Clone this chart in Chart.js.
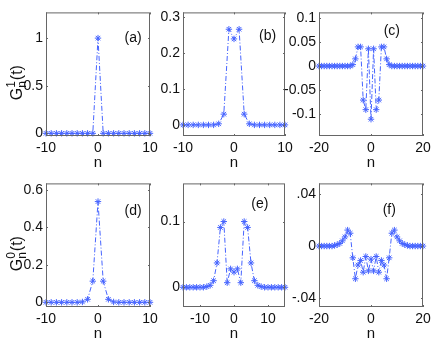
<!DOCTYPE html>
<html>
<head>
<meta charset="utf-8">
<script src="https://cdn.jsdelivr.net/npm/chart.js@4/dist/chart.umd.min.js"></script>
<style>
  html, body { margin: 0; padding: 0; background: #fff; }
  body { width: 436px; height: 343px; position: relative; overflow: hidden; }
  canvas { position: absolute; }
</style>
</head>
<body>
<script>
// site index n for each panel
const n10 = [-10,-9,-8,-7,-6,-5,-4,-3,-2,-1,0,1,2,3,4,5,6,7,8,9,10];
const n15 = [-15,-14,-13,-12,-11,-10,-9,-8,-7,-6,-5,-4,-3,-2,-1,0,1,2,3,4,5,6,7,8,9,10,11,12,13,14,15];
const n20 = [-20,-19,-18,-17,-16,-15,-14,-13,-12,-11,-10,-9,-8,-7,-6,-5,-4,-3,-2,-1,0,
             1,2,3,4,5,6,7,8,9,10,11,12,13,14,15,16,17,18,19,20];

// G_n^1(t)
const gA = [0,0,0,0,0,0,0,0,0,0,1,0,0,0,0,0,0,0,0,0,0];
const gB = [0,0,0,0,0,0,0,0.003,0.03,0.267,0.24,0.267,0.03,0.003,0,0,0,0,0,0,0];
const gC = [0,0,0,0,0,0,0,0,0,0,0,0,0,0.003,0.015,0.04,0.04,-0.071,-0.091,0.036,-0.111,
            0.036,-0.091,-0.071,0.04,0.04,0.015,0.003,0,0,0,0,0,0,0,0,0,0,0,0,0];
// G_n^0(t)
const gD = [0,0,0,0,0,0,0,0.002,0.016,0.113,0.538,0.113,0.016,0.002,0,0,0,0,0,0,0];
const gE = [0,0,0,0,0,0,0,0.001,0.003,0.01,0.037,0.091,0.1,0.007,0.028,0.023,
            0.028,0.007,0.1,0.091,0.037,0.01,0.003,0.001,0,0,0,0,0,0,0];
const gF = [0,0,0,0,0,0,0.0005,0.001,0.002,0.004,0.007,0.0122,0.0098,-0.009,-0.025,-0.0145,-0.011,-0.02,-0.008,-0.019,-0.01,
            -0.019,-0.008,-0.02,-0.011,-0.0145,-0.025,-0.009,0.0098,0.0122,0.007,0.004,0.002,0.001,0.0005,0,0,0,0,0,0];

// tick values and labels
const xTicks10 = [-10, 0, 10];
const xTicks20 = [-20, 0, 20];
const yTicksA = [0, 0.5, 1];
const yTicksB = [0, 0.1, 0.2, 0.3];
const yTicksC = [-0.1, -0.05, 0, 0.05, 0.1];
const yTicksD = [0, 0.2, 0.4, 0.6];
const yTicksE = [0, 0.1];
const yTicksF = [-0.04, 0, 0.04];
const yLabelsF = ['-.04', '0', '.04'];

const panels = [
  { n: n10, g: gA, x: [-10, 10], y: [-0.028, 1.27], xt: xTicks10, yt: yTicksA, col: 0, row: 0, tag: '(a)', tagAt: [0.837, 0.205], sup: '1' },
  { n: n10, g: gB, x: [-10, 10], y: [-0.031, 0.314], xt: xTicks10, yt: yTicksB, col: 1, row: 0, tag: '(b)', tagAt: [0.83, 0.19] },
  { n: n20, g: gC, x: [-20, 20], y: [-0.146, 0.112], xt: xTicks20, yt: yTicksC, col: 2, row: 0, tag: '(c)', tagAt: [0.70, 0.15] },
  { n: n10, g: gD, x: [-10, 10], y: [-0.025, 0.635], xt: xTicks10, yt: yTicksD, col: 0, row: 1, tag: '(d)', tagAt: [0.837, 0.223], sup: '0' },
  { n: n15, g: gE, x: [-15, 15], y: [-0.03, 0.158], xt: xTicks10, yt: yTicksE, col: 1, row: 1, tag: '(e)', tagAt: [0.753, 0.166] },
  { n: n20, g: gF, x: [-20, 20], y: [-0.0466, 0.0479], xt: xTicks20, yt: yTicksF, yl: yLabelsF, col: 2, row: 1, tag: '(f)', tagAt: [0.676, 0.215] },
];

const colLeft = [46, 183, 319];
const colWidth = [104, 102, 104];
const rowTop = [11, 182];
const rowHeight = [125, 125];
const padL = 46, padR = 14, padT = 10, padB = 40;

const FONT = '"Liberation Sans", Arial, sans-serif';
const blue = 'rgb(70,100,255)';
const boxColor = '#666';

const decor = {
  id: 'decor',
  afterDraw(chart) {
    const p = chart.options.plugins.decor.panel;
    const { ctx, chartArea: a, scales } = chart;
    const tl = 2;
    ctx.save();
    ctx.strokeStyle = boxColor;
    ctx.lineWidth = 1;
    ctx.strokeRect(a.left + 0.5, a.top + 0.5, a.right - a.left - 1, a.bottom - a.top - 1);
    ctx.beginPath();
    p.xt.forEach((v) => {
      const px = Math.round(scales.x.getPixelForValue(v)) + 0.5;
      ctx.moveTo(px, a.bottom); ctx.lineTo(px, a.bottom - tl);
      ctx.moveTo(px, a.top); ctx.lineTo(px, a.top + tl);
    });
    p.yt.forEach((v) => {
      const py = Math.round(scales.y.getPixelForValue(v)) + 0.5;
      ctx.moveTo(a.left, py); ctx.lineTo(a.left + tl, py);
      ctx.moveTo(a.right, py); ctx.lineTo(a.right - tl, py);
    });
    ctx.stroke();

    ctx.fillStyle = '#111';
    ctx.font = `14px ${FONT}`;
    ctx.textAlign = 'center';
    ctx.textBaseline = 'middle';
    ctx.fillText(p.tag, a.left + p.tagAt[0] * (a.right - a.left), a.top + p.tagAt[1] * (a.bottom - a.top));
    ctx.font = `15px ${FONT}`;
    ctx.fillText('n', (a.left + a.right) / 2, a.bottom + 27);

    if (p.sup) {
      // rotated G_n^k(t)
      const cy = (a.top + a.bottom) / 2 + 9;
      ctx.translate(22, cy);
      ctx.rotate(-Math.PI / 2);
      ctx.textBaseline = 'alphabetic';
      ctx.textAlign = 'left';
      ctx.font = `16px ${FONT}`;
      const wG = ctx.measureText('G').width;
      ctx.font = `12px ${FONT}`;
      const wS = Math.max(ctx.measureText(p.sup).width, ctx.measureText('n').width);
      ctx.font = `16px ${FONT}`;
      const wT = ctx.measureText('(t)').width;
      const x0 = -(wG + wS + wT) / 2;
      ctx.fillText('G', x0, 0);
      ctx.fillText('(t)', x0 + wG + wS + 1, 0);
      ctx.font = `12px ${FONT}`;
      ctx.fillText(p.sup, x0 + wG, -7);
      ctx.fillText('n', x0 + wG, 4);
    }
    ctx.restore();
  },
};

panels.forEach((p) => {
  const w = colWidth[p.col], h = rowHeight[p.row];
  const cv = document.createElement('canvas');
  cv.width = padL + w + padR;
  cv.height = padT + h + padB;
  cv.style.left = `${colLeft[p.col] - padL}px`;
  cv.style.top = `${rowTop[p.row] - padT}px`;
  cv.style.width = `${cv.width}px`;
  cv.style.height = `${cv.height}px`;
  document.body.appendChild(cv);

  new Chart(cv.getContext('2d'), {
    type: 'scatter',
    data: {
      datasets: [{
        data: p.n.map((v, i) => ({ x: v, y: p.g[i] })),
        showLine: true,
        borderColor: blue,
        borderWidth: 1,
        borderDash: [5, 2, 1, 2],
        pointStyle: 'star',
        pointRadius: 3.2,
        pointBorderWidth: 1,
        pointBorderColor: blue,
        pointBackgroundColor: blue,
        clip: false,
      }],
    },
    options: {
      responsive: false,
      animation: false,
      events: [],
      layout: { padding: { left: 0, right: padR, top: padT, bottom: 0 } },
      plugins: { legend: { display: false }, tooltip: { enabled: false }, decor: { panel: p } },
      scales: {
        x: {
          type: 'linear',
          min: p.x[0], max: p.x[1],
          afterBuildTicks: (s) => { s.ticks = p.xt.map((v) => ({ value: v })); },
          afterFit: (s) => { s.height = padB; },
          grid: { display: false, drawTicks: false },
          border: { display: false },
          ticks: { autoSkip: false, maxRotation: 0, padding: 4, color: '#111', font: { family: FONT, size: 14 } },
        },
        y: {
          type: 'linear',
          min: p.y[0], max: p.y[1],
          afterBuildTicks: (s) => { s.ticks = p.yt.map((v) => ({ value: v })); },
          afterFit: (s) => { s.width = padL; },
          grid: { display: false, drawTicks: false },
          border: { display: false },
          ticks: {
            autoSkip: false, padding: 3, color: '#111', font: { family: FONT, size: 14 },
            callback: (v) => (p.yl ? p.yl[p.yt.indexOf(v)] : String(v)),
          },
        },
      },
    },
    plugins: [decor],
  });
});
</script>
</body>
</html>
